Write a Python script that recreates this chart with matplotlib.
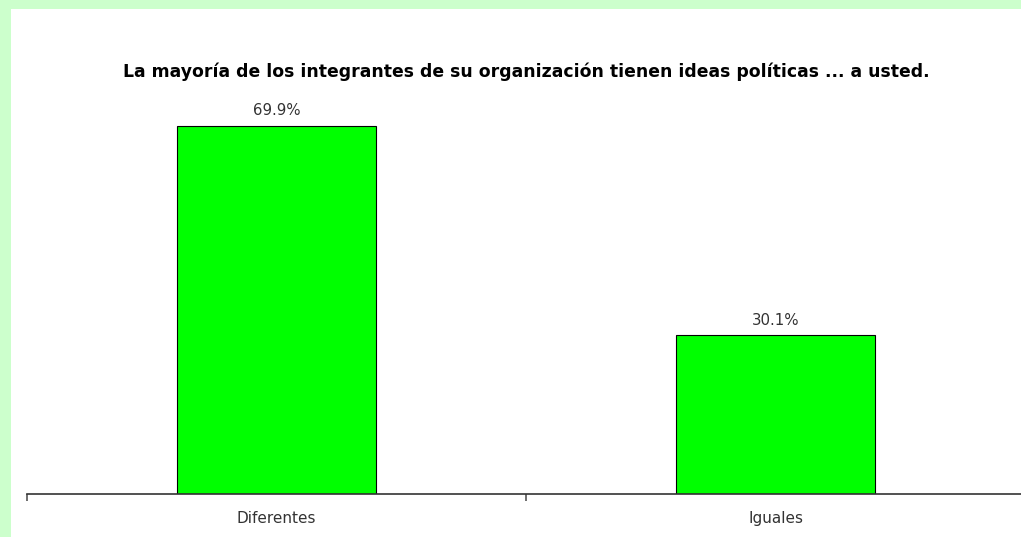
import matplotlib
matplotlib.use("Agg")
import matplotlib.pyplot as plt
from matplotlib.patches import Rectangle

categorias = ["Diferentes", "Iguales"]
porcentajes = [69.9, 30.1]
etiquetas = ["69.9%", "30.1%"]
titulo = "La mayoría de los integrantes de su organización tienen ideas políticas ... a usted."

plt.rcParams["font.family"] = ["DejaVu Sans"]

W, H = 1021, 537
fig = plt.figure(figsize=(W / 100, H / 100), dpi=100)
fig.patch.set_facecolor("#ccffcc")
# panel blanco detras de todo
fondo = Rectangle((11 / W, 0), 1, 1 - 9 / H, transform=fig.transFigure,
                  facecolor="white", edgecolor="none", zorder=-10)
fig.patches.append(fondo)

ax = fig.add_axes([27 / W, 43 / H, (W - 27) / W, (494 - 40) / H])
ax.set_facecolor("none")
ax.set_zorder(1)
x = range(len(categorias))
ax.bar(x, porcentajes, width=0.4, color="#00ff00", edgecolor="black", linewidth=0.8)
for i in x:
    ax.text(i, porcentajes[i] + 1.4, etiquetas[i], ha="center", va="bottom",
            fontsize=10.8, color="#333333")

ax.set_xlim(-0.5, -0.5 + (W - 27) / 499)
ax.set_ylim(0, (494 - 40) / 5.27)
# ticks solo entre categorias
ax.set_xticks([-0.5, 0.5])
ax.set_xticklabels([])
ax.tick_params(axis="x", which="major", length=5, color="#555555", width=1.2, direction="out")
ax.set_xticks(list(x), minor=True)
ax.set_xticklabels(categorias, minor=True)
ax.tick_params(axis="x", which="minor", length=0, pad=12, labelsize=11, labelcolor="#333333")
ax.set_yticks([])
for s in ["top", "left", "right"]:
    ax.spines[s].set_visible(False)
ax.spines["bottom"].set_color("#333333")
ax.spines["bottom"].set_linewidth(1.2)

fig.text(526 / W, 1 - 72 / H, titulo, ha="center", va="center",
         fontsize=12.4, fontweight="bold", color="black")

fig.savefig("out.png", dpi=100, facecolor=fig.get_facecolor())
